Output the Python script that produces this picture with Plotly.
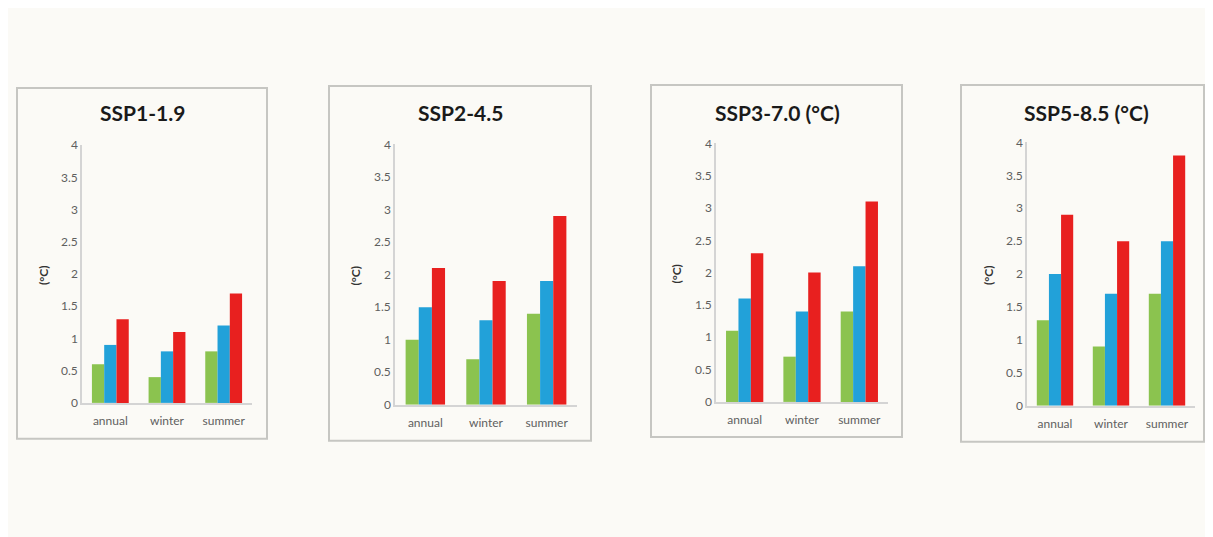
import plotly.graph_objects as go

W, H = 1213, 537

categories = ["annual", "winter", "summer"]
scenarios = ["SSP1-1.9", "SSP2-4.5", "SSP3-7.0 (°C)", "SSP5-8.5 (°C)"]
green_vals = [[0.6, 0.4, 0.8], [1.0, 0.7, 1.4], [1.1, 0.7, 1.4], [1.3, 0.9, 1.7]]
blue_vals = [[0.9, 0.8, 1.2], [1.5, 1.3, 1.9], [1.6, 1.4, 2.1], [2.0, 1.7, 2.5]]
red_vals = [[1.3, 1.1, 1.7], [2.1, 1.9, 2.9], [2.3, 2.0, 3.1], [2.9, 2.5, 3.8]]
y_ticks = [0, 0.5, 1, 1.5, 2, 2.5, 3, 3.5, 4]
y_ticklabels = ["0", "0.5", "1", "1.5", "2", "2.5", "3", "3.5", "4"]
y_unit = "(°C)"

colors = ["#8bc34f", "#22a1d9", "#e8201f"]

# layout geometry in figure pixels (left, top, right, bottom)
boxes = [(9, 74, 259, 435), (321, 72, 583, 437), (643, 71, 894, 433), (953, 71, 1196, 438)]
plots = [(74, 133, 244, 398), (387, 132, 569, 400), (708, 131, 880, 397), (1019, 130, 1187, 401)]
title_x = [134, 452, 769, 1078]
title_y = 99

BG = "#fbfaf6"
FONT = "Lato, Open Sans, sans-serif"
fig = go.Figure()

def fx(px):
    return px / W

def fy(py):
    return 1 - py / H

shapes = []
annotations = []
for i in range(4):
    xa = "x" if i == 0 else f"x{i+1}"
    ya = "y" if i == 0 else f"y{i+1}"
    for vals, col in zip([green_vals, blue_vals, red_vals], colors):
        fig.add_trace(go.Bar(x=categories, y=vals[i], marker_color=col,
                             marker_line_width=0, xaxis=xa, yaxis=ya,
                             showlegend=False))
    x0, y0, x1, y1 = plots[i]
    key = "" if i == 0 else str(i + 1)
    fig.layout["xaxis" + key] = dict(
        domain=[fx(x0), fx(x1)], anchor=ya, showgrid=False, zeroline=False,
        showline=True, linecolor="#d4d4d4", linewidth=1.5, ticks="",
        ticklabelstandoff=6,
        tickfont=dict(family=FONT, size=12, color="#5f5f5f"),
        fixedrange=True)
    fig.layout["yaxis" + key] = dict(
        domain=[fy(y1), fy(y0)], anchor=xa, range=[0, 4], showgrid=False,
        zeroline=False, showline=True, linecolor="#d4d4d4", linewidth=1.5,
        tickvals=y_ticks, ticktext=y_ticklabels, ticks="",
        tickfont=dict(family=FONT, size=12, color="#5f5f5f"),
        fixedrange=True)
    bx0, by0, bx1, by1 = boxes[i]
    shapes.append(dict(type="rect", xref="paper", yref="paper",
                       x0=fx(bx0), x1=fx(bx1), y0=fy(by1), y1=fy(by0),
                       line=dict(color="#c6c6c2", width=2), fillcolor="rgba(0,0,0,0)",
                       layer="below"))
    annotations.append(dict(text="<b>" + scenarios[i] + "</b>", xref="paper", yref="paper",
                            x=fx(title_x[i]), y=fy(title_y), showarrow=False,
                            xanchor="center", yanchor="middle",
                            font=dict(family=FONT, size=21, color="#1a1a1a")))
    annotations.append(dict(text="<b>" + y_unit + "</b>", xref="paper", yref="paper",
                            x=fx(x0 - 39), y=fy((y0 + y1) / 2 + 1), showarrow=False,
                            textangle=-90, xanchor="center", yanchor="middle",
                            font=dict(family=FONT, size=12, color="#333333")))

fig.update_layout(
    width=W, height=H, margin=dict(l=0, r=0, t=0, b=0),
    paper_bgcolor=BG, plot_bgcolor=BG,
    barmode="group", bargap=0.35, bargroupgap=0,
    shapes=shapes, annotations=annotations,
)

fig.write_html("out.html")
